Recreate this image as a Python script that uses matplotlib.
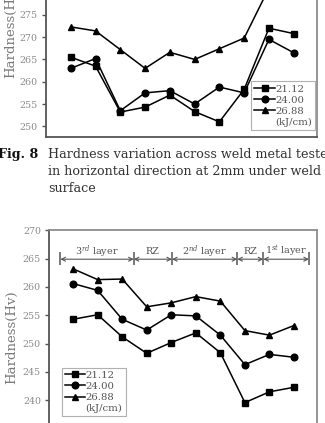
import matplotlib
matplotlib.use("Agg")
import matplotlib.pyplot as plt
from matplotlib.lines import Line2D
from matplotlib.ticker import MultipleLocator

# ---------------- data ----------------
series_labels = ["21.12", "24.00", "26.88"]
unit_label = "(kJ/cm)"

# Fig. 8 (upper chart, partially visible)
top_x = list(range(10))
top_2112 = [265.5, 263.5, 253.2, 254.3, 257.0, 253.3, 251.0, 258.3, 272.0, 270.8]
top_2400 = [263.0, 265.2, 253.5, 257.5, 258.0, 255.0, 258.8, 257.5, 269.5, 266.5]
top_2688 = [272.3, 271.4, 267.2, 263.0, 266.6, 265.0, 267.4, 269.8, 281.0, 281.0]

# lower chart
bot_x = list(range(10))
bot_2112 = [254.3, 255.1, 251.2, 248.3, 250.2, 251.9, 248.4, 239.6, 241.5, 242.3]
bot_2400 = [260.6, 259.4, 254.3, 252.4, 255.1, 254.9, 251.5, 246.3, 248.1, 247.6]
bot_2688 = [263.2, 261.3, 261.4, 256.5, 257.2, 258.3, 257.5, 252.3, 251.5, 253.2]

zone_bounds = [-0.52, 2.47, 4.03, 6.69, 7.75, 9.61]
zone_labels = ["3$^{rd}$ layer", "RZ", "2$^{nd}$ layer", "RZ", "1$^{st}$ layer"]
zone_y = 264.9

caption_head = "Fig. 8"
caption_lines = ["Hardness variation across weld metal tested",
                 "in horizontal direction at 2mm under weld",
                 "surface"]
ylabel = "Hardness(Hv)"

# ---------------- style ----------------
SERIF = ["DejaVu Serif", "Liberation Serif"]
plt.rcParams["font.family"] = SERIF
plt.rcParams["mathtext.fontset"] = "dejavuserif"
TICKC = "#8a8a8a"
FRAMEC = "#555555"
markers = ["s", "o", "^"]
MS = 4.8

W, H = 325, 423
fig = plt.figure(figsize=(W / 100, H / 100), dpi=100)
fig.patch.set_facecolor("white")


def px_axes(left, right, top, bottom):
    return fig.add_axes([left / W, 1 - bottom / H, (right - left) / W, (bottom - top) / H])


def style_axes(ax):
    for s in ax.spines.values():
        s.set_color(FRAMEC)
        s.set_linewidth(1.3)
    ax.spines["right"].set_color("#8c8c8c")
    ax.spines["top"].set_color("#8c8c8c")
    ax.yaxis.set_major_locator(MultipleLocator(5))
    ax.tick_params(axis="y", direction="out", length=3, width=1, color=FRAMEC,
                   labelsize=6.8, labelcolor=TICKC, pad=3)
    ax.set_xticks([])
    ax.set_ylabel(ylabel, fontsize=9.5, color="#7a7a7a", labelpad=6)


def draw_series(ax, x, ys):
    for y, m, lab in zip(ys, markers, series_labels):
        ax.plot(x, y, color="black", lw=1.1, marker=m, markersize=MS, label=lab)


def add_legend(ax, loc, anchor):
    handles = [Line2D([], [], color="black", lw=1.1, marker=m, markersize=MS) for m in markers]
    handles.append(Line2D([], [], color="none"))
    leg = ax.legend(handles, series_labels + [unit_label], loc=loc, bbox_to_anchor=anchor,
                    borderaxespad=0, fancybox=False, framealpha=1, edgecolor="#b0b0b0",
                    fontsize=7.3, labelspacing=0.2, handlelength=2.0, handletextpad=0.05,
                    borderpad=0.3, labelcolor="#555555")
    leg.get_frame().set_linewidth(0.8)
    return leg


# upper chart (extends above the figure)
ax1 = px_axes(46, 317, -52, 137)
draw_series(ax1, top_x, [top_2112, top_2400, top_2688])
ax1.set_xlim(-1.0, 9.94)
ax1.set_ylim(247.6, 290)
style_axes(ax1)
ax1.yaxis.set_label_coords(-0.105, 0.56)
add_legend(ax1, "lower right", (0.993, 0.037))

# caption
fig.text(-2 / W, 1 - 154 / H, caption_head, fontsize=9.2, fontweight="bold", va="center",
         ha="left", color="#111111")
for i, line in enumerate(caption_lines):
    fig.text(48 / W, 1 - (154 + i * 17) / H, line, fontsize=9.2, va="center", ha="left",
             color="#333333")

# lower chart (extends below the figure)
ax2 = px_axes(49.3, 317.3, 230.3, 457)
draw_series(ax2, bot_x, [bot_2112, bot_2400, bot_2688])
ax2.set_xlim(-0.97, 9.95)
ax2.set_ylim(230, 270)
style_axes(ax2)
ax2.yaxis.set_label_coords(-0.115, 0.53)
add_legend(ax2, "upper left", (0.047, 0.394))

ax2.vlines(zone_bounds, zone_y - 1.1, zone_y + 1.2, color="#555555", lw=1.1)
for b0, b1, lab in zip(zone_bounds[:-1], zone_bounds[1:], zone_labels):
    ax2.annotate("", xy=(b1, zone_y), xytext=(b0, zone_y),
                 arrowprops=dict(arrowstyle="<->", color="#555555", lw=0.8,
                                 shrinkA=0, shrinkB=0, mutation_scale=7))
    ax2.text((b0 + b1) / 2, zone_y + 1.4, lab, ha="center", va="center",
             fontsize=6.9, color="#555555")

fig.savefig("out.png", dpi=100)
